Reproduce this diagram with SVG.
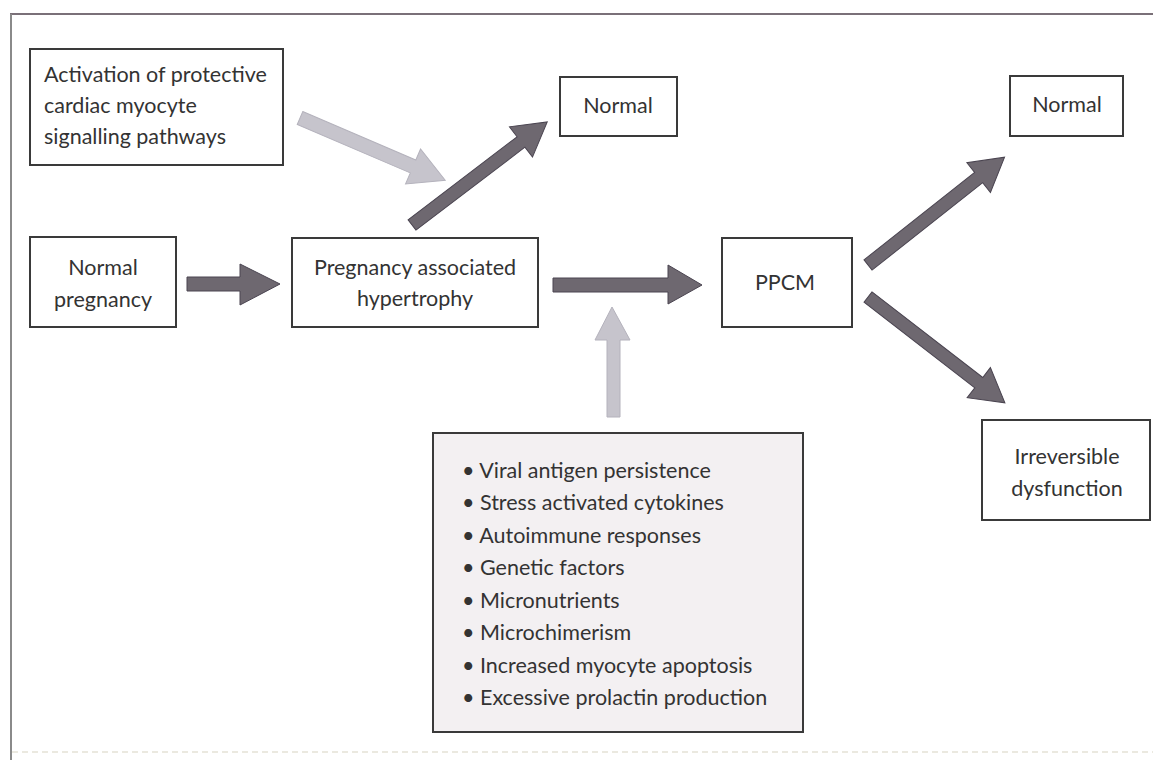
<svg xmlns="http://www.w3.org/2000/svg" width="1153" height="760" viewBox="0 0 1153 760">
<style>
.box{fill:#fff;stroke:#3a3a3a;stroke-width:2}
.lbox{fill:#f3f0f2;stroke:#3a3a3a;stroke-width:2}
.t{font-family:Lato,"Liberation Sans",sans-serif;font-size:21.5px;fill:#333}
.c{text-anchor:middle}
.dark{fill:#6e6870;stroke:#4a4450;stroke-width:1}
.light{fill:#c6c4cc;stroke:#b4b2bc;stroke-width:1}
</style>
<rect width="1153" height="760" fill="#fff"/>
<g id="frame">
<line x1="10" y1="14" x2="1153" y2="14" stroke="#7a7078" stroke-width="2"/>
<line x1="11" y1="14" x2="11" y2="760" stroke="#8a8a8a" stroke-width="2"/>
<line x1="12" y1="752" x2="1153" y2="752" stroke="#ebe9e0" stroke-width="2" stroke-dasharray="6 4"/>
</g>
<g id="activation">
<rect class="box" x="30" y="49" width="253" height="116"/>
<text class="t" x="44" y="82">Activation of protective</text>
<text class="t" x="44" y="113">cardiac myocyte</text>
<text class="t" x="44" y="144">signalling pathways</text>
</g>
<g id="normal-mid">
<rect class="box" x="560" y="77" width="117" height="59"/>
<text class="t c" x="618" y="113">Normal</text>
</g>
<g id="normal-right">
<rect class="box" x="1010" y="76" width="113" height="60"/>
<text class="t c" x="1067" y="112">Normal</text>
</g>
<g id="normal-pregnancy">
<rect class="box" x="30" y="237" width="146" height="90"/>
<text class="t c" x="103" y="275">Normal</text>
<text class="t c" x="103" y="307">pregnancy</text>
</g>
<g id="hypertrophy">
<rect class="box" x="292" y="238" width="246" height="89"/>
<text class="t c" x="415" y="275">Pregnancy associated</text>
<text class="t c" x="415" y="306">hypertrophy</text>
</g>
<g id="ppcm">
<rect class="box" x="722" y="238" width="130" height="89"/>
<text class="t c" x="785" y="290">PPCM</text>
</g>
<g id="irreversible">
<rect class="box" x="982" y="420" width="168" height="100"/>
<text class="t c" x="1067" y="464">Irreversible</text>
<text class="t c" x="1067" y="496">dysfunction</text>
</g>
<g id="factors">
<rect class="lbox" x="433" y="433" width="370" height="299"/>
<text class="t" x="462" y="478">• Viral antigen persistence</text>
<text class="t" x="462" y="510">• Stress activated cytokines</text>
<text class="t" x="462" y="543">• Autoimmune responses</text>
<text class="t" x="462" y="575">• Genetic factors</text>
<text class="t" x="462" y="608">• Micronutrients</text>
<text class="t" x="462" y="640">• Microchimerism</text>
<text class="t" x="462" y="673">• Increased myocyte apoptosis</text>
<text class="t" x="462" y="705">• Excessive prolactin production</text>
</g>
<g id="connectors">
<polygon class="dark" points="187,277 240,277 240,264 280,284 240,305 240,291 187,291"/>
<polygon class="dark" points="553,278 668,278 668,265 702,285 668,304 668,292 553,292"/>
<polygon class="light" points="607,417 607,340 595,340 612,307 630,340 620,340 620,417"/>
<polygon class="dark" transform="translate(412,225) rotate(-37.3)" points="0,-6.5 137,-6.5 137,-19 170,0 137,19 137,6.5 0,6.5"/>
<polygon class="light" transform="translate(300,118) rotate(23.2)" points="0,-7 123,-7 123,-19 158,0 123,19 123,7 0,7"/>
<polygon class="dark" transform="translate(868,265) rotate(-38.3)" points="0,-6.5 141,-6.5 141,-19 174,0 141,19 141,6.5 0,6.5"/>
<polygon class="dark" transform="translate(868,297) rotate(37.7)" points="0,-6.5 140,-6.5 140,-19 173,0 140,19 140,6.5 0,6.5"/>
</g>
</svg>
